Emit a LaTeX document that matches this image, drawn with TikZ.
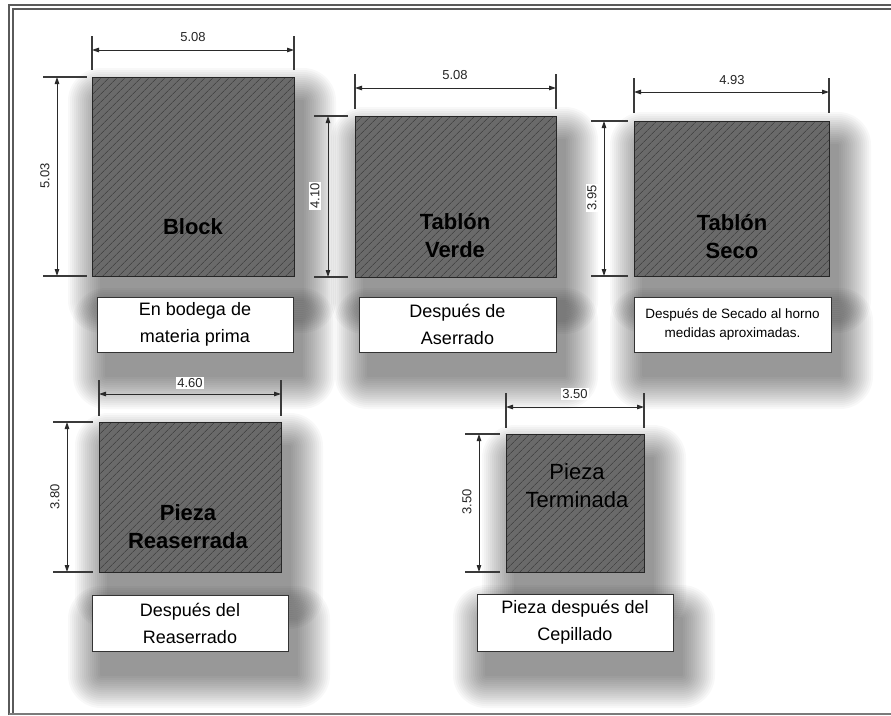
\documentclass[tikz,border=0pt]{standalone}
\usepackage{fontspec}
\setmainfont{Liberation Sans}
\usetikzlibrary{arrows.meta,patterns.meta,calc}
\pgfdeclarelayer{background}
\pgfsetlayers{background,main}
\definecolor{hatchfill}{HTML}{6A6A6A}
\definecolor{hatchline}{HTML}{333333}
\definecolor{framec}{HTML}{5A5A5A}
\definecolor{dimc}{HTML}{2A2A2A}
\definecolor{extc}{HTML}{3A3A3A}
\newcommand{\myshadow}[1]{%
  \begin{pgfonlayer}{background}
  \foreach \r in {1,3,...,33}{%
    \fill[black,opacity=0.028,rounded corners=\r pt]
      ($(#1.north west)+(9-\r,24-\r)$) rectangle ($(#1.south east)+(9+\r,24+\r)$);
  }
  \end{pgfonlayer}}
\begin{document}
\begin{tikzpicture}[x=1pt,y=-1pt,
  piece/.style={draw=black!85,line width=0.9pt,inner sep=0pt,outer sep=0pt,
     preaction={fill=hatchfill},pattern={Lines[angle=45,distance=5.4pt,line width=0.55pt]},pattern color=hatchline},
  caption/.style={draw=black!80,line width=0.9pt,fill=white,inner sep=0pt,outer sep=0pt,
     align=center,font=\fontsize{18}{27}\selectfont},
  smallcaption/.style={caption,font=\fontsize{13.5}{19}\selectfont},
  piecetext/.style={align=center,text=black,font=\bfseries\fontsize{22}{28}\selectfont},
  piecetextr/.style={align=center,text=black,font=\fontsize{22}{28}\selectfont},
  dimline/.style={draw=dimc,line width=0.9pt,{Triangle[length=7pt,width=4.5pt]}-{Triangle[length=7pt,width=4.5pt]}},
  extline/.style={draw=extc,line width=1.2pt},
  dimtext/.style={fill=white,inner sep=1pt,font=\fontsize{13}{15}\selectfont,text=black!85},
  framel/.style={draw=framec,line width=1.6pt}
]
\useasboundingbox (0,0) rectangle (891,715);
\begin{pgfonlayer}{background}
\fill[white] (0,0) rectangle (891,715);
\end{pgfonlayer}

% frame
\draw[framel] (9,715) -- (9,5) -- (891,5);
\draw[framel] (13,715) -- (13,9) -- (891,9);
\draw[draw=framec!80,line width=1.4pt] (9,714) -- (891,714);

% pieces
\node[piece,minimum width=202pt,minimum height=199pt] (b1) at (193,176.5) {};
\node[piece,minimum width=201pt,minimum height=161pt] (b2) at (455.5,196.5) {};
\node[piece,minimum width=195pt,minimum height=155pt] (b3) at (731.5,198.5) {};
\node[piece,minimum width=182pt,minimum height=150pt] (b4) at (190,497) {};
\node[piece,minimum width=138pt,minimum height=138pt] (b5) at (575,503) {};

% captions
\node[caption,minimum width=196pt,minimum height=55pt] (c1) at (195,324.5) {En bodega de\\materia prima};
\node[caption,minimum width=197pt,minimum height=55pt] (c2) at (457.5,324.5) {Después de\\Aserrado};
\node[smallcaption,minimum width=197pt,minimum height=55pt] (c3) at (732.5,324.5) {Después de Secado al horno\\medidas aproximadas.};
\node[caption,minimum width=196pt,minimum height=56pt] (c4) at (190,623) {Después del\\Reaserrado};
\node[caption,minimum width=196pt,minimum height=57pt] (c5) at (575,622.5) {Pieza después del\\Cepillado};

% shadows
\myshadow{b1}\myshadow{b2}\myshadow{b3}\myshadow{b4}\myshadow{b5}
\myshadow{c1}\myshadow{c2}\myshadow{c3}\myshadow{c4}\myshadow{c5}

% piece texts
\node[piecetext] (t1) at (193,227) {Block};
\node[piecetext] (t2) at (455,236) {Tablón\\Verde};
\node[piecetext] (t3) at (732,236.5) {Tablón\\Seco};
\node[piecetext] (t4) at (188,527) {Pieza\\Reaserrada};
\node[piecetextr] (t5) at (577,486) {Pieza\\Terminada};

% ---- top dimensions
\draw[extline] (b1.north west |- 0,36) -- (b1.north west |- 0,70);
\draw[extline] (b1.north east |- 0,36) -- (b1.north east |- 0,70);
\draw[dimline] (b1.north west |- 0,50) -- (b1.north east |- 0,50);
\node[dimtext] (d1) at (193,37) {5.08};

\draw[extline] (b2.north west |- 0,74) -- (b2.north west |- 0,109);
\draw[extline] (b2.north east |- 0,74) -- (b2.north east |- 0,109);
\draw[dimline] (b2.north west |- 0,88) -- (b2.north east |- 0,88);
\node[dimtext] (d2) at (455,75) {5.08};

\draw[extline] (b3.north west |- 0,78) -- (b3.north west |- 0,113);
\draw[extline] (b3.north east |- 0,78) -- (b3.north east |- 0,113);
\draw[dimline] (b3.north west |- 0,92) -- (b3.north east |- 0,92);
\node[dimtext] (d3) at (732,80) {4.93};

\draw[extline] (b4.north west |- 0,380) -- (b4.north west |- 0,416);
\draw[extline] (b4.north east |- 0,380) -- (b4.north east |- 0,416);
\draw[dimline] (b4.north west |- 0,394) -- (b4.north east |- 0,394);
\node[dimtext] (d4) at (190,383) {4.60};

\draw[extline] (b5.north west |- 0,393) -- (b5.north west |- 0,428);
\draw[extline] (b5.north east |- 0,393) -- (b5.north east |- 0,428);
\draw[dimline] (b5.north west |- 0,407) -- (b5.north east |- 0,407);
\node[dimtext] (d5) at (575,394) {3.50};

% ---- left dimensions
\draw[extline] (43,0 |- b1.north west) -- (87,0 |- b1.north west);
\draw[extline] (43,0 |- b1.south west) -- (87,0 |- b1.south west);
\draw[dimline] (57,0 |- b1.north west) -- (57,0 |- b1.south west);
\node[dimtext,rotate=90] (e1) at (45,176) {5.03};

\draw[extline] (314,0 |- b2.north west) -- (348,0 |- b2.north west);
\draw[extline] (314,0 |- b2.south west) -- (348,0 |- b2.south west);
\draw[dimline] (328,0 |- b2.north west) -- (328,0 |- b2.south west);
\node[dimtext,rotate=90] (e2) at (315,196) {4.10};

\draw[extline] (591,0 |- b3.north west) -- (628,0 |- b3.north west);
\draw[extline] (591,0 |- b3.south west) -- (628,0 |- b3.south west);
\draw[dimline] (604,0 |- b3.north west) -- (604,0 |- b3.south west);
\node[dimtext,rotate=90] (e3) at (592,198) {3.95};

\draw[extline] (53,0 |- b4.north west) -- (93,0 |- b4.north west);
\draw[extline] (53,0 |- b4.south west) -- (93,0 |- b4.south west);
\draw[dimline] (67,0 |- b4.north west) -- (67,0 |- b4.south west);
\node[dimtext,rotate=90] (e4) at (55,497) {3.80};

\draw[extline] (465,0 |- b5.north west) -- (500,0 |- b5.north west);
\draw[extline] (465,0 |- b5.south west) -- (500,0 |- b5.south west);
\draw[dimline] (479,0 |- b5.north west) -- (479,0 |- b5.south west);
\node[dimtext,rotate=90] (e5) at (467,502) {3.50};
\end{tikzpicture}
\end{document}
